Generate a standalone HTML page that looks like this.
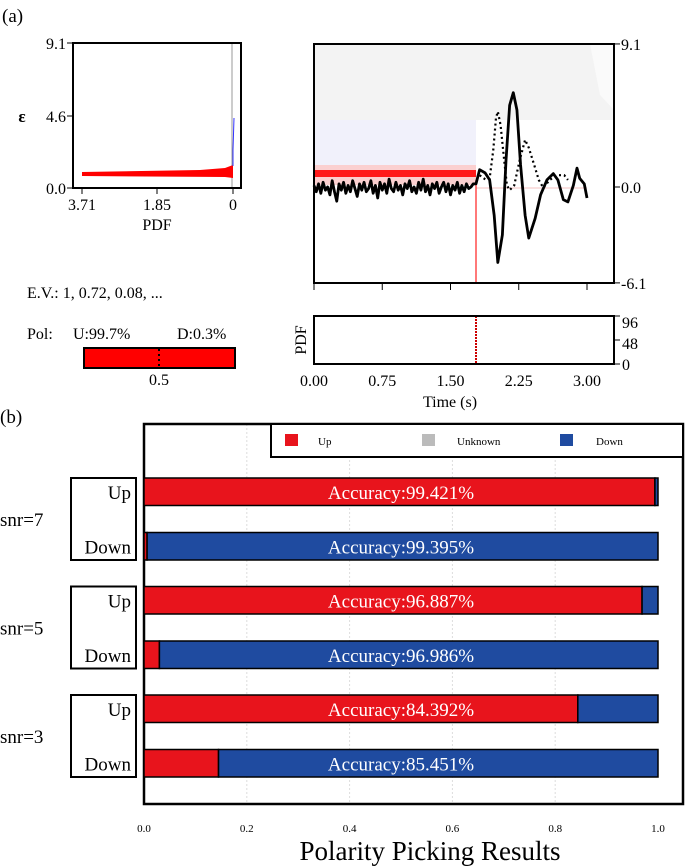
<!DOCTYPE html>
<html><head><meta charset="utf-8"><style>
html,body{margin:0;padding:0;background:#fff;}
svg{display:block;}
svg text{font-family:"Liberation Serif","Times New Roman","DejaVu Serif",serif;}
</style></head><body>
<svg id="fig" width="685" height="866" viewBox="0 0 685 866" xmlns="http://www.w3.org/2000/svg">
<text x="2" y="22" font-size="19">(a)</text>

<g>
  <line x1="232" y1="44" x2="232" y2="188" stroke="#999" stroke-width="1"/>
  <polygon points="82,172 200,170 225,168 233,165 233,178 225,177 82,176" fill="#ff0000"/>
  <polyline points="233,166 233,150 234,118" fill="none" stroke="#3333ff" stroke-width="1"/>
  <rect x="73" y="43" width="168" height="145" fill="none" stroke="#000" stroke-width="2"/>
  <g font-size="16" text-anchor="end">
    <text x="66" y="49">9.1</text><text x="66" y="122">4.6</text><text x="66" y="194">0.0</text>
  </g>
  <line x1="67" y1="43" x2="73" y2="43" stroke="#000"/><line x1="67" y1="116" x2="73" y2="116" stroke="#000"/><line x1="67" y1="188" x2="73" y2="188" stroke="#000"/>
  <text x="22" y="122" font-size="17" font-weight="bold" text-anchor="middle">ε</text>
  <line x1="82" y1="188" x2="82" y2="194" stroke="#000"/><line x1="157" y1="188" x2="157" y2="194" stroke="#000"/><line x1="233" y1="188" x2="233" y2="194" stroke="#000"/>
  <g font-size="16" text-anchor="middle">
    <text x="82" y="210">3.71</text><text x="157" y="210">1.85</text><text x="233" y="210">0</text>
    <text x="157" y="230">PDF</text>
  </g>
</g>
<text x="27" y="298" font-size="16">E.V.: 1, 0.72, 0.08, ...</text>
<g>
  <text x="27" y="339" font-size="16">Pol:</text>
  <text x="73" y="339" font-size="16">U:99.7%</text>
  <text x="177" y="339" font-size="16">D:0.3%</text>
  <rect x="84" y="348" width="151" height="20" fill="#ff0000" stroke="#000" stroke-width="2"/>
  <line x1="159" y1="349" x2="159" y2="367" stroke="#000" stroke-width="2" stroke-dasharray="2,3"/>
  <text x="159" y="385" font-size="16" text-anchor="middle">0.5</text>
</g>

<g id="wave">
  <rect x="314" y="44" width="300" height="76" fill="#f3f3f3"/>
  <polygon points="590,44 614,44 614,110 600,95" fill="#fafafa"/>
  <rect x="314" y="120" width="162" height="45" fill="#f1f1fb"/>
  <rect x="314" y="165" width="162" height="20" fill="#fbd0d0"/>
  <rect x="314" y="170" width="162" height="7" fill="#ff1a1a"/>
  <line x1="476" y1="188" x2="587" y2="188" stroke="#f6c0c0" stroke-width="1"/>
  <line x1="476" y1="180" x2="476" y2="283" stroke="#ff2020" stroke-width="1.2"/>
</g>
<g id="pdfpanel">
  <line x1="476" y1="316" x2="476" y2="364" stroke="#cc0000" stroke-width="2" stroke-dasharray="2,1"/>
  <rect x="314" y="316" width="300" height="48" fill="none" stroke="#000" stroke-width="2"/>
  <line x1="614" y1="316" x2="620" y2="316" stroke="#000"/><line x1="614" y1="340" x2="620" y2="340" stroke="#000"/><line x1="614" y1="364" x2="620" y2="364" stroke="#000"/>
  <g font-size="16"><text x="622" y="328">96</text><text x="622" y="349">48</text><text x="622" y="370">0</text></g>
  <text x="0" y="0" font-size="16" text-anchor="middle" transform="translate(306,340) rotate(-90)">PDF</text>
  <text x="450" y="407" font-size="16" text-anchor="middle">Time (s)</text>
</g>

<text x="0" y="423" font-size="19">(b)</text>
<g id="bars"></g>
</svg>
<script>
// ---------- waveform data ----------
const noiseTimes = [0.00,0.025,0.05,0.075,0.10,0.125,0.15,0.175,0.20,0.225,0.25,0.275,0.30,0.325,0.35,0.375,0.40,0.425,0.45,0.475,0.50,0.525,0.55,0.575,0.60,0.625,0.65,0.675,0.70,0.725,0.75,0.775,0.80,0.825,0.85,0.875,0.90,0.925,0.95,0.975,1.00,1.025,1.05,1.075,1.10,1.125,1.15,1.175,1.20,1.225,1.25,1.275,1.30,1.325,1.35,1.375,1.40,1.425,1.45,1.475,1.50,1.525,1.55,1.575,1.60,1.625,1.65,1.675,1.70,1.725,1.75];
const noiseAmp = [0.1,-0.3,0.2,-0.4,0.3,-0.2,0.0,-0.5,0.4,-0.3,-0.9,0.2,-0.2,0.3,-0.4,0.1,-0.3,0.4,-0.1,-0.6,0.2,-0.2,0.3,-0.3,-0.1,0.4,-0.4,0.1,-0.7,0.3,-0.2,0.2,-0.4,0.5,-0.1,-0.3,0.3,-0.2,0.1,-0.5,0.2,-0.1,0.4,-0.3,0.0,-0.4,0.3,-0.2,0.5,-0.3,0.1,-0.5,0.2,-0.1,0.3,-0.4,0.0,0.3,-0.3,0.2,-0.5,0.1,-0.2,0.3,-0.4,0.1,-0.3,0.2,-0.1,0.0,0.2];
const signalTimes = [1.78,1.82,1.88,1.93,1.98,2.02,2.07,2.11,2.15,2.19,2.23,2.27,2.32,2.36,2.43,2.49,2.56,2.63,2.68,2.74,2.79,2.85,2.89,2.92,2.97,3.00];
const signalAmp = [0.2,1.1,0.9,0.45,-1.8,-4.8,-3.05,1.7,5.2,6.0,4.9,1.4,-1.8,-3.25,-2.0,-0.5,0.45,0.85,0.45,-0.8,-0.95,0.1,1.2,0.55,0.2,-0.7];
const predTimes = [1.82,1.89,1.93,1.97,2.00,2.02,2.05,2.09,2.12,2.15,2.20,2.26,2.32,2.36,2.42,2.47,2.52,2.59,2.67,2.75,2.79];
const predAmp = [0.75,0.45,0.55,2.35,4.4,4.8,3.95,1.7,0.1,-0.2,0.1,1.7,3.0,2.5,1.4,0.45,-0.05,0.45,0.75,0.75,0.45];
const timeTicks = [0, 0.75, 1.5, 2.25, 3.0];
const timeTickLabels = ["0.00","0.75","1.50","2.25","3.00"];
const ampTicks = [9.1, 0.0, -6.1];
const ampTickLabels = ["9.1","0.0","-6.1"];

// ---------- bar chart data ----------
const groups = ["snr=7","snr=5","snr=3"];
const rowLabels = ["Up","Down","Up","Down","Up","Down"];
const upFrac = [0.994,0.006,0.969,0.030,0.844,0.145];
const unknownFrac = [0,0,0,0,0,0];
const downFrac = [0.006,0.994,0.031,0.970,0.156,0.855];
const accLabels = ["Accuracy:99.421%","Accuracy:99.395%","Accuracy:96.887%","Accuracy:96.986%","Accuracy:84.392%","Accuracy:85.451%"];
const xTicks = [0,0.2,0.4,0.6,0.8,1.0];
const xTickLabels = ["0.0","0.2","0.4","0.6","0.8","1.0"];

const NS = "http://www.w3.org/2000/svg";
function mk(tag, attrs, parent){const e=document.createElementNS(NS,tag);for(const k in attrs)e.setAttribute(k,attrs[k]);parent.appendChild(e);return e;}
const tx = t => 314 + t*91;
const ay = a => 187 - a*15.72;

const wave = document.getElementById('wave');
const pts = noiseTimes.map((t,i)=>tx(t)+','+ay(noiseAmp[i])).concat(signalTimes.map((t,i)=>tx(t)+','+ay(signalAmp[i])));
const dotted = mk('polyline',{points:predTimes.map((t,i)=>tx(t)+','+ay(predAmp[i])).join(' '),fill:'none',stroke:'#000','stroke-width':2.2,'stroke-dasharray':'2,3'},wave);


const solid = mk('polyline',{points:pts.join(' '),fill:'none',stroke:'#000','stroke-width':2.8,'stroke-linejoin':'round'},wave);


mk('rect',{x:314,y:44,width:300,height:239,fill:'none',stroke:'#000','stroke-width':2},wave);
ampTicks.forEach((a,i)=>{
  mk('line',{x1:614,y1:ay(a),x2:620,y2:ay(a),stroke:'#000'},wave);
  const t = mk('text',{x:621,y:ay(a)+6,'font-size':16},wave); t.textContent = ampTickLabels[i];
  
  
});
timeTicks.forEach((v,i)=>{
  mk('line',{x1:tx(v),y1:283,x2:tx(v),y2:290,stroke:'#000'},wave);
  const t = mk('text',{x:tx(v),y:386,'font-size':16,'text-anchor':'middle'},wave); t.textContent = timeTickLabels[i];
  
  
});

const bars = document.getElementById('bars');
const bx = v => 144 + v*514;
const rowY = i => 478 + Math.floor(i/2)*108.5 + (i%2)*54.5;
const BH = 27.5;
xTicks.forEach((v,i)=>{
  if(i>0 && i<xTicks.length-1) mk('line',{x1:bx(v),y1:424,x2:bx(v),y2:804,stroke:'#ddd','stroke-dasharray':'2,2'},bars);
  const t = mk('text',{x:bx(v),y:832,'font-size':11,'text-anchor':'middle'},bars); t.textContent = xTickLabels[i];
  
  
});
mk('rect',{x:144,y:424,width:539,height:380,fill:'none',stroke:'#000','stroke-width':2.5},bars);
rowLabels.forEach((lab,i)=>{
  const y = rowY(i);
  const r = mk('rect',{x:bx(0),y:y,width:bx(upFrac[i])-bx(0),height:BH,fill:'#e8141c',stroke:'#000','stroke-width':1.5},bars);
  
  
  const u = mk('rect',{x:bx(upFrac[i]),y:y,width:bx(upFrac[i]+unknownFrac[i])-bx(upFrac[i]),height:BH,fill:'#bbb'},bars);
  
  
  const s = upFrac[i]+unknownFrac[i];
  const d = mk('rect',{x:bx(s),y:y,width:bx(s+downFrac[i])-bx(s),height:BH,fill:'#1f4ba0',stroke:'#000','stroke-width':1.5},bars);
  
  
  const t = mk('text',{x:401,y:y+21,'font-size':19,'text-anchor':'middle',fill:'#fff'},bars); t.textContent = accLabels[i];
  
  
  const l = mk('text',{x:131,y:y+21,'font-size':19,'text-anchor':'end'},bars); l.textContent = lab;
  
  
});
groups.forEach((g,k)=>{
  const y0 = rowY(2*k), y1 = rowY(2*k+1)+BH;
  const b = mk('rect',{x:71,y:y0,width:65,height:y1-y0,fill:'none',stroke:'#000','stroke-width':2},bars);
  
  
  const t = mk('text',{x:0,y:(y0+y1)/2+7,'font-size':19},bars); t.textContent = g;
  
  
});
const lg = mk('g',{},bars);


mk('rect',{x:271,y:424,width:412,height:33,fill:'#fff',stroke:'#000','stroke-width':2},lg);
[["#e8141c","Up",285,318],["#bbb","Unknown",422,457],["#1f4ba0","Down",560,596]].forEach(e=>{
  mk('rect',{x:e[2],y:434,width:13,height:12,fill:e[0]},lg);
  const t = mk('text',{x:e[3],y:445,'font-size':11},lg); t.textContent = e[1];
  
  
});
const title = mk('text',{x:430,y:860,'font-size':27,'text-anchor':'middle'},bars);
title.textContent = "Polarity Picking Results";


</script>
</body></html>
